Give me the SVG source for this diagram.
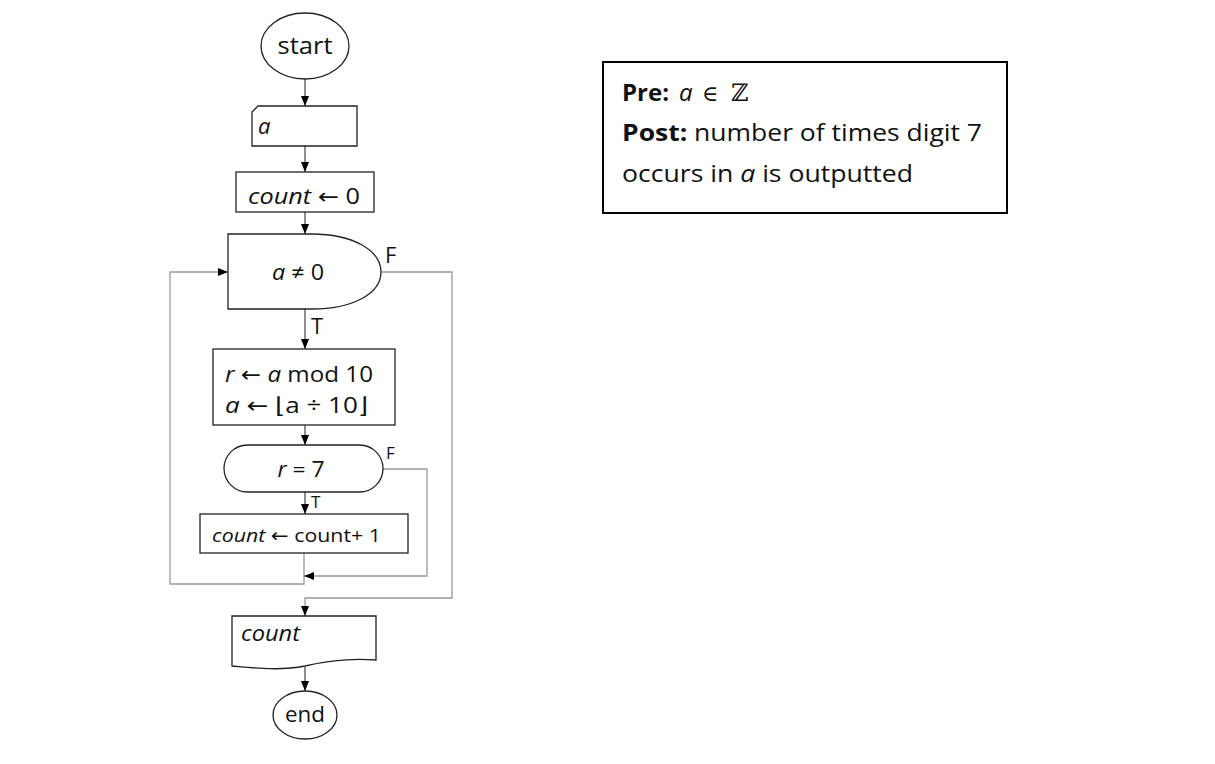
<svg xmlns="http://www.w3.org/2000/svg" width="1215" height="764" viewBox="0 0 1215 764">
<style>
.shape{fill:#fff;stroke:#222;stroke-width:1.3}
.conn{fill:none;stroke:#444;stroke-width:1.2}
.loop{fill:none;stroke:#999;stroke-width:1.3}
.t{font-family:"Open Sans","Noto Sans",sans-serif;fill:#111}
.i{font-style:italic}
.b{font-weight:bold}
.ar{font-family:"DejaVu Sans",sans-serif;font-style:normal}
</style>
<defs>
<marker id="ah" viewBox="0 0 10 10" markerUnits="userSpaceOnUse" markerWidth="10" markerHeight="10" refX="10" refY="5" orient="auto">
<path d="M0,1 L10,5 L0,9 Z" fill="#000"/>
</marker>
</defs>
<rect width="1215" height="764" fill="#fff"/>
<g id="connectors">
<line class="conn" x1="305" y1="79" x2="305" y2="106" marker-end="url(#ah)"/>
<line class="conn" x1="305" y1="146" x2="305" y2="172" marker-end="url(#ah)"/>
<line class="conn" x1="305" y1="212" x2="305" y2="234" marker-end="url(#ah)"/>
<line class="conn" x1="305" y1="309" x2="305" y2="349" marker-end="url(#ah)"/>
<line class="conn" x1="305" y1="425" x2="305" y2="445" marker-end="url(#ah)"/>
<line class="conn" x1="305" y1="492" x2="305" y2="514" marker-end="url(#ah)"/>
<polyline class="loop" points="304,553 304,584 170,584 170,272 228,272" marker-end="url(#ah)"/>
<polyline class="loop" points="383,469 427,469 427,576 304,576" marker-end="url(#ah)"/>
<polyline class="loop" points="381,272 452,272 452,598 305,598 305,616" marker-end="url(#ah)"/>
<line class="conn" x1="305" y1="667" x2="305" y2="691" marker-end="url(#ah)"/>
<text class="t" x="385" y="263" font-size="22">F</text>
<text class="t" x="311" y="334" font-size="22">T</text>
<text class="t" x="386" y="459" font-size="17">F</text>
<text class="t" x="311" y="508" font-size="17">T</text>
</g>
<g id="start">
<ellipse class="shape" cx="305" cy="46" rx="44" ry="33"/>
<text class="t" x="305" y="54" font-size="24" text-anchor="middle" textLength="55" lengthAdjust="spacingAndGlyphs">start</text>
</g>
<g id="input-a">
<path class="shape" d="M258,106 H357 V146 H252 V112 Z"/>
<text class="t i" x="258" y="134" font-size="22">a</text>
</g>
<g id="init-count">
<rect class="shape" x="236" y="172" width="138" height="40"/>
<text class="t" x="248" y="204" font-size="22" textLength="112" lengthAdjust="spacingAndGlyphs"><tspan class="i">count</tspan> <tspan class="ar">←</tspan> 0</text>
</g>
<g id="cond-a">
<path class="shape" d="M228,234 H312 C352,234 381,250 381,272 C381,294 352,309 312,309 H228 Z"/>
<text class="t" x="298" y="280" font-size="22" text-anchor="middle" textLength="52" lengthAdjust="spacingAndGlyphs"><tspan class="i">a</tspan> ≠ 0</text>
</g>
<g id="step">
<rect class="shape" x="213" y="349" width="182" height="76"/>
<text class="t" x="225" y="382" font-size="22" textLength="148" lengthAdjust="spacingAndGlyphs"><tspan class="i">r</tspan> <tspan class="ar">←</tspan> <tspan class="i">a</tspan> mod 10</text>
<text class="t" x="225" y="413" font-size="22" textLength="143" lengthAdjust="spacingAndGlyphs"><tspan class="i">a</tspan> <tspan class="ar">←</tspan> <tspan class="ar">⌊</tspan>a ÷ 10<tspan class="ar">⌋</tspan></text>
</g>
<g id="cond-r">
<rect class="shape" x="224" y="445" width="159" height="47" rx="23.5"/>
<text class="t" x="301" y="477" font-size="22" text-anchor="middle" textLength="47" lengthAdjust="spacingAndGlyphs"><tspan class="i">r</tspan> = 7</text>
</g>
<g id="inc">
<rect class="shape" x="200" y="514" width="208" height="39"/>
<text class="t" x="212" y="542" font-size="19" textLength="169" lengthAdjust="spacingAndGlyphs"><tspan class="i">count</tspan> <tspan class="ar">←</tspan> count+ 1</text>
</g>
<g id="output">
<path class="shape" d="M232,616 H376 V660 C350,658 330,660 305,666 C280,671 255,668 232,666 Z"/>
<text class="t i" x="241" y="641" font-size="22" textLength="59" lengthAdjust="spacingAndGlyphs">count</text>
</g>
<g id="end">
<ellipse class="shape" cx="305" cy="715" rx="32" ry="24"/>
<text class="t" x="305" y="722" font-size="22" text-anchor="middle" textLength="40" lengthAdjust="spacingAndGlyphs">end</text>
</g>
<g id="spec">
<rect x="603" y="62" width="404" height="151" fill="#fff" stroke="#000" stroke-width="2"/>
<text class="t" x="622" y="101" font-size="24"><tspan class="b">Pre:</tspan><tspan class="i" x="679">a</tspan><tspan x="702" font-family="'DejaVu Serif',serif" font-size="22">∈</tspan><tspan x="731" font-family="'DejaVu Serif',serif" font-size="24">ℤ</tspan></text>
<text class="t" x="622" y="141" font-size="23" textLength="360" lengthAdjust="spacingAndGlyphs"><tspan class="b">Post:</tspan> number of times digit 7</text>
<text class="t" x="622" y="182" font-size="23" textLength="291" lengthAdjust="spacingAndGlyphs">occurs in <tspan class="i">a</tspan> is outputted</text>
</g>
</svg>
